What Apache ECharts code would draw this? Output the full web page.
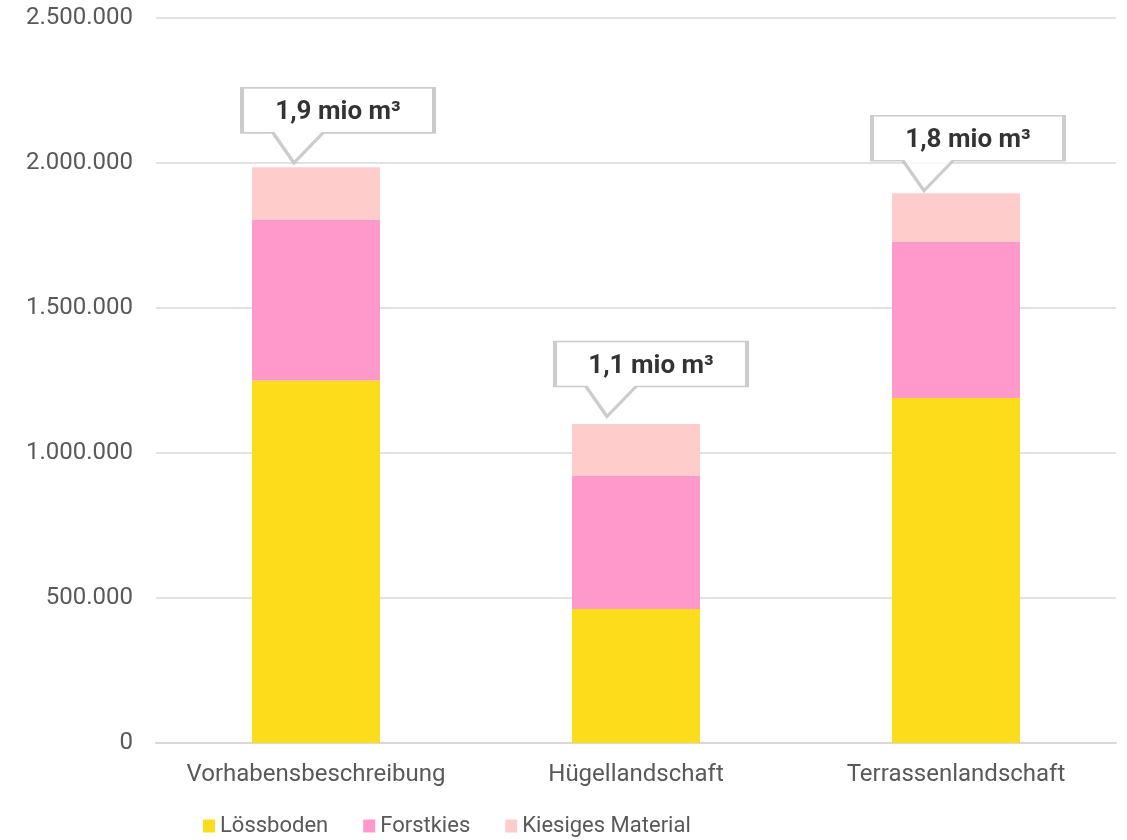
<!DOCTYPE html>
<html>
<head>
<meta charset="utf-8">
<script src="https://cdn.jsdelivr.net/npm/echarts@6/dist/echarts.min.js"></script>
<style>
html, body { margin: 0; padding: 0; background: #fff; }
#main { width: 1127px; height: 840px; }
</style>
</head>
<body>
<div id="main"></div>
<script>
// Daten
var categories = ['Vorhabensbeschreibung', 'Hügellandschaft', 'Terrassenlandschaft'];
var loessboden = [1250000, 462000, 1190000];
var forstkies = [555000, 460000, 538000];
var kiesig = [180000, 178000, 168000];
var calloutLabels = ['1,9 mio m³', '1,1 mio m³', '1,8 mio m³'];
var yTicks = [0, 500000, 1000000, 1500000, 2000000, 2500000];

// Sprechblase (Box 192x45, Spitze 30 px darunter)
var calloutPath = 'path://M0,0 L192,0 L192,45 L81,45 L52,75 L31,45 L0,45 Z';
var calloutShift = [[22, -42], [15, -45], [12, -40]];

var totals = categories.map(function (c, i) {
  return {
    value: [i, loessboden[i] + forstkies[i] + kiesig[i]],
    symbolOffset: calloutShift[i]
  };
});

var myChart = echarts.init(document.getElementById('main'));
option = {
  animation: false,
  textStyle: { fontFamily: 'Roboto' },
  grid: { left: 156, right: 11, top: 18, bottom: 97 },
  legend: {
    left: 203,
    top: 815,
    padding: 0,
    itemWidth: 12,
    itemHeight: 13,
    itemGap: 35,
    icon: 'rect',
    textStyle: { fontSize: 22, color: '#595959' },
    data: ['Lössboden', 'Forstkies', 'Kiesiges Material']
  },
  xAxis: {
    type: 'category',
    data: categories,
    axisTick: { show: false },
    axisLine: { lineStyle: { color: '#d9d9d9', width: 2 } },
    axisLabel: { color: '#595959', fontSize: 24, margin: 20, interval: 0 }
  },
  yAxis: {
    type: 'value',
    min: yTicks[0],
    max: yTicks[yTicks.length - 1],
    interval: 500000,
    axisLabel: {
      color: '#595959',
      fontSize: 24,
      margin: 23,
      formatter: function (v) {
        return String(v).replace(/\B(?=(\d{3})+(?!\d))/g, '.');
      }
    },
    splitLine: { lineStyle: { color: '#d9d9d9', width: 1.5 } }
  },
  series: [
    {
      name: 'Lössboden',
      type: 'bar',
      stack: 'a',
      barWidth: '40%',
      itemStyle: { color: '#FCDC1B' },
      data: loessboden
    },
    {
      name: 'Forstkies',
      type: 'bar',
      stack: 'a',
      itemStyle: { color: '#FF99CC' },
      data: forstkies
    },
    {
      name: 'Kiesiges Material',
      type: 'bar',
      stack: 'a',
      itemStyle: { color: '#FFCCCC' },
      data: kiesig
    },
    {
      name: 'callout',
      type: 'scatter',
      silent: true,
      symbol: calloutPath,
      symbolSize: [192, 75],
      itemStyle: { color: '#fff', borderColor: '#bfbfbf', borderWidth: 2.5 },
      label: {
        show: true,
        position: 'inside',
        offset: [0, -13],
        color: '#000',
        fontWeight: 'bold',
        fontSize: 26,
        formatter: function (p) {
          return calloutLabels[p.dataIndex];
        }
      },
      z: 5,
      data: totals
    }
  ]
};
myChart.setOption(option);
</script>
</body>
</html>
